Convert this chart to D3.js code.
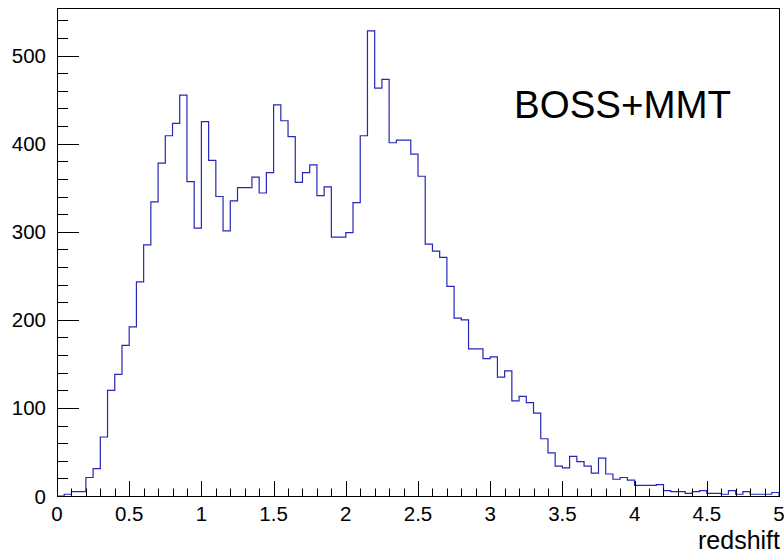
<!DOCTYPE html>
<html><head><meta charset="utf-8">
<script src="https://cdn.jsdelivr.net/npm/d3@7"></script>
<style>body{margin:0;background:#fff}svg{display:block}</style>
</head><body><svg id="c" width="784" height="555"></svg>
<script>
// Histogram: 100 bins of width 0.05 from 0 to 5
const xMin = 0, xMax = 5, nBins = 100;
const counts = [
  0, 2, 5, 5, 21, 31, 67, 120, 138, 171,
  192, 243, 285, 334, 378, 409, 423, 455, 357, 304,
  425, 381, 340, 301, 335, 350, 350, 362, 344, 367,
  444, 426, 408, 356, 367, 376, 341, 351, 294, 294,
  299, 333, 409, 528, 463, 473, 401, 404, 404, 388,
  363, 286, 278, 271, 238, 202, 200, 167, 167, 156,
  158, 135, 142, 108, 113, 106, 94, 65, 49, 34,
  32, 45, 39, 34, 26, 43, 25, 19, 21, 18,
  12, 12, 12, 13, 6, 5, 5, 3, 5, 6,
  3, 3, 2, 6, 2, 5, 2, 2, 2, 4
];
const yMajorTicks = [0, 100, 200, 300, 400, 500];
const xMajorTicks = [0, 0.5, 1, 1.5, 2, 2.5, 3, 3.5, 4, 4.5, 5];
const xTickLabels = ["0", "0.5", "1", "1.5", "2", "2.5", "3", "3.5", "4", "4.5", "5"];
const xTitle = "redshift";
const label = "BOSS+MMT";

const svg = d3.select("#c");
const L = 57, R = 779, T = 8, B = 496;
const x = d3.scaleLinear().domain([xMin, xMax]).range([L, R]);
const y = d3.scaleLinear().domain([0, 554]).range([B, T]);
const font = "'Liberation Sans', Arial, Helvetica, sans-serif";

// frame
svg.append("rect").attr("x", L + 0.5).attr("y", T + 0.5).attr("width", R - L).attr("height", B - T)
  .attr("fill", "none").attr("stroke", "#000").attr("stroke-width", 1);

// histogram outline
const w = (xMax - xMin) / nBins;
let pts = [[x(xMin), y(0)]];
counts.forEach((c, i) => {
  pts.push([x(xMin + i * w), y(c)]);
  pts.push([x(xMin + (i + 1) * w), y(c)]);
});
pts.push([x(xMax), y(0)]);
svg.append("path").attr("d", d3.line()(pts)).attr("fill", "none")
  .attr("stroke", "#2626b8").attr("stroke-width", 1.2);

// y ticks
const yMinor = d3.range(0, 554, 20);
const ga = svg.append("g").attr("stroke", "#000").attr("stroke-width", 1);
yMinor.forEach(v => {
  const major = yMajorTicks.includes(v);
  ga.append("line").attr("x1", L).attr("x2", L + (major ? 22 : 11))
    .attr("y1", Math.round(y(v)) + 0.5).attr("y2", Math.round(y(v)) + 0.5);
});
// x ticks
const xMinor = d3.range(0, 50.5, 1).map(d => d / 10);
xMinor.forEach(v => {
  const major = xMajorTicks.some(m => Math.abs(m - v) < 1e-9);
  ga.append("line").attr("x1", Math.round(x(v)) + 0.5).attr("x2", Math.round(x(v)) + 0.5)
    .attr("y1", B).attr("y2", B - (major ? 15 : 7.5));
});

// y labels
yMajorTicks.forEach(v => {
  svg.append("text").attr("x", 46).attr("y", y(v) + 7.5).attr("text-anchor", "end")
    .attr("font-family", font).attr("font-size", 20.5).text(v);
});
// x labels
xMajorTicks.forEach((v, i) => {
  svg.append("text").attr("x", x(v)).attr("y", 521).attr("text-anchor", "middle")
    .attr("font-family", font).attr("font-size", 20.5).text(xTickLabels[i]);
});
svg.append("text").attr("x", R + 1).attr("y", 549).attr("text-anchor", "end")
  .attr("font-family", font).attr("font-size", 25).text(xTitle);
svg.append("text").attr("x", 514).attr("y", 118)
  .attr("font-family", font).attr("font-size", 38.5).text(label);
</script></body></html>
